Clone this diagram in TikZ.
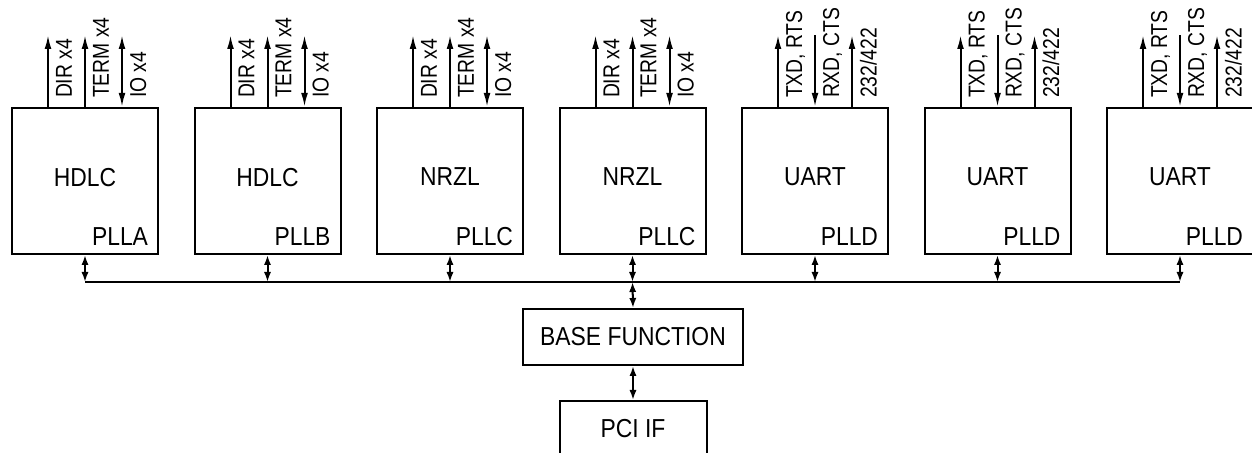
\documentclass[tikz,border=0pt]{standalone}
\usepackage{fontspec}
\setmainfont{Liberation Sans}
\newfontfamily\blkfont[FakeStretch=0.88]{Liberation Sans}
\newfontfamily\sigfont[FakeStretch=0.84]{Liberation Sans}
\usepackage{tikz}
\usetikzlibrary{arrows.meta,calc}

\begin{document}
\begin{tikzpicture}[x=0.5pt,y=0.5pt,line width=1pt,>={Latex[length=7pt,width=3.4pt]},
blk/.style={draw,minimum width=73pt,minimum height=73pt,text depth=4pt,font=\blkfont\fontsize{13}{15}\selectfont},
pll/.style={anchor=south east,inner xsep=5pt,inner ysep=4pt,font=\blkfont\fontsize{13}{15}\selectfont},
sig/.style={rotate=90,anchor=north west,inner sep=0pt,font=\sigfont\fontsize{11.5}{13}\selectfont},
bus/.style={{Latex[length=5pt,width=3.6pt]}-{Latex[length=5pt,width=3.6pt]}}]
\useasboundingbox(0,0)rectangle(1252,453);
\foreach \i/\t/\p in {1/HDLC/PLLA,2/HDLC/PLLB,3/NRZL/PLLC,4/NRZL/PLLC,5/UART/PLLD,6/UART/PLLD,7/UART/PLLD}{
\node[blk](b\i)at({85+182.5*(\i-1)},272){\t};
\node[pll](p\i)at(b\i.south east){\p};
}
\foreach \i in {1,...,4}{
\coordinate(t\i-1)at($(b\i.north)+(-37,72)$);
\coordinate(t\i-2)at($(b\i.north)+(0,72)$);
\coordinate(t\i-3)at($(b\i.north)+(37,72)$);
\draw[->](t\i-1|-b\i.north)--(t\i-1);
\draw[->](t\i-2|-b\i.north)--(t\i-2);
\draw[<->](t\i-3|-b\i.north)--(t\i-3);
\node[sig](l\i-1)at($(b\i.north)+(-30,8)$){DIR x4};
\node[sig](l\i-2)at($(b\i.north)+(7,8)$){TERM x4};
\node[sig](l\i-3)at($(b\i.north)+(44,8)$){IO x4};
}
\foreach \i in {5,6,7}{
\coordinate(t\i-1)at($(b\i.north)+(-37,72)$);
\coordinate(t\i-2)at($(b\i.north)+(0,72)$);
\coordinate(t\i-3)at($(b\i.north)+(37,72)$);
\draw[->](t\i-1|-b\i.north)--(t\i-1);
\draw[<-](t\i-2|-b\i.north)--(t\i-2);
\draw[->](t\i-3|-b\i.north)--(t\i-3);
\node[sig](l\i-1)at($(b\i.north)+(-30,8)$){TXD, RTS};
\node[sig](l\i-2)at($(b\i.north)+(7,8)$){RXD, CTS};
\node[sig](l\i-3)at($(b\i.north)+(44,8)$){232/422};
}
\coordinate(busy)at(0,171);
\draw(b1.south|-busy)--(b7.south|-busy);
\foreach \i in {1,...,7}
\draw[bus](b\i.south)--(b\i.south|-busy);
\node[draw,minimum width=110pt,minimum height=28pt,font=\blkfont\fontsize{13}{15}\selectfont](base)at(633,116){BASE FUNCTION};
\node[draw,minimum width=73.5pt,minimum height=28pt,font=\blkfont\fontsize{13}{15}\selectfont](pci)at(633,24){PCI IF};
\draw[bus](b4.south|-busy)--(base.north);
\draw[bus](base.south)--(pci.north);
\end{tikzpicture}
\end{document}
